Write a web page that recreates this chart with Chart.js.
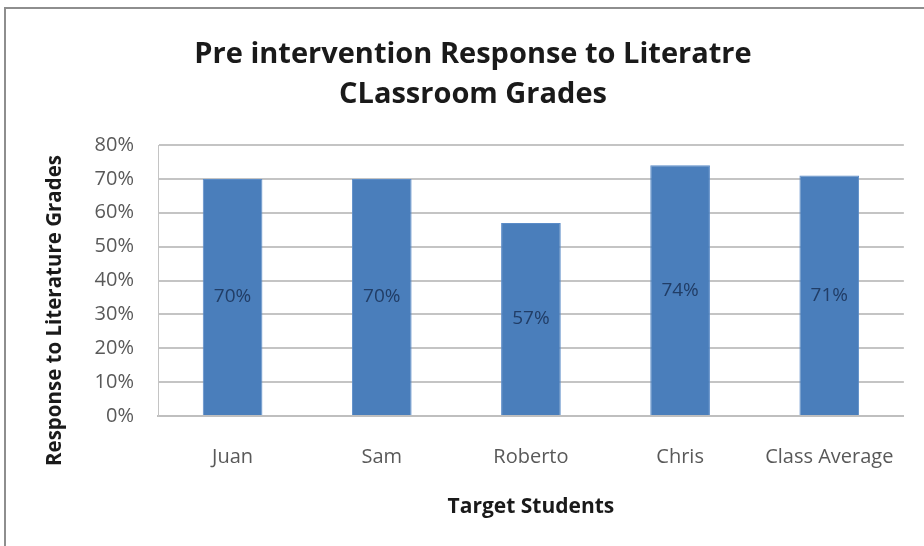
<!DOCTYPE html>
<html>
<head>
<meta charset="utf-8">
<script src="https://cdn.jsdelivr.net/npm/chart.js@4"></script>
<style>
  html, body { margin: 0; padding: 0; background: #fff; }
  #wrap { position: relative; width: 924px; height: 546px; overflow: hidden; }
  #frame { position: absolute; left: 4px; top: 7px; width: 940px; height: 560px;
           border-left: 2px solid #8e8e8e; border-top: 2px solid #8e8e8e; }
  canvas { position: absolute; left: 0; top: 0; }
</style>
</head>
<body>
<div id="wrap">
  <div id="frame"></div>
  <canvas id="chart" width="924" height="546"></canvas>
</div>
<script>
const students = ["Juan", "Sam", "Roberto", "Chris", "Class Average"];
const grades = [70, 70, 57, 74, 71];
const yTicks = [0, 10, 20, 30, 40, 50, 60, 70, 80];
const yTitle = "Response to Literature Grades";

const FONT = "Open Sans";

// etykiety wartosci w srodku slupkow
const barLabels = {
  id: "barLabels",
  afterDatasetsDraw(chart) {
    const ctx = chart.ctx;
    const meta = chart.getDatasetMeta(0);
    ctx.save();
    ctx.font = "19px '" + FONT + "'";
    ctx.fillStyle = "#213d66";
    ctx.textAlign = "center";
    ctx.textBaseline = "middle";
    meta.data.forEach((bar, i) => {
      const mid = (bar.y + bar.base) / 2;
      ctx.fillText(grades[i] + "%", bar.x, mid);
    });
    ctx.restore();
  }
};

// tytul osi Y - w Excelu jest wysrodkowany nizej niz w Chart.js
const yAxisTitle = {
  id: "yAxisTitle",
  afterDraw(chart) {
    const ctx = chart.ctx;
    const y = chart.scales.y;
    ctx.save();
    ctx.translate(55, (y.top + y.bottom) / 2 + 30);
    ctx.rotate(-Math.PI / 2);
    ctx.font = "bold 20.5px '" + FONT + "'";
    ctx.fillStyle = "#1a1a1a";
    ctx.textAlign = "center";
    ctx.textBaseline = "middle";
    ctx.fillText(yTitle, 0, 0);
    ctx.restore();
  }
};

new Chart(document.getElementById("chart"), {
  type: "bar",
  data: {
    labels: students,
    datasets: [{
      data: grades,
      backgroundColor: "#4a7ebb",
      borderColor: "#5b8cc8",
      borderWidth: 1,
      barPercentage: 0.4,
      categoryPercentage: 1
    }]
  },
  options: {
    responsive: false,
    animation: false,
    layout: { padding: { left: 38, right: 16, top: 0, bottom: 0 } },
    plugins: {
      legend: { display: false },
      tooltip: { enabled: false },
      title: {
        display: true,
        text: ["Pre intervention Response to Literatre", "CLassroom Grades"],
        font: { family: FONT, size: 29, weight: "bold", lineHeight: 1.38 },
        color: "#1a1a1a",
        padding: { top: 35, bottom: 30 }
      }
    },
    scales: {
      x: {
        grid: { display: false, drawTicks: false },
        border: { display: true, color: "#bfbfbf", width: 2 },
        ticks: { font: { family: FONT, size: 20 }, color: "#595959", padding: 29 },
        title: {
          display: true,
          text: "Target Students",
          font: { family: FONT, size: 21, weight: "bold" },
          color: "#1a1a1a",
          padding: { top: 4, bottom: 26 }
        },
        afterFit(scale) { scale.height = 130; }
      },
      y: {
        min: 0,
        max: 80,
        afterBuildTicks(scale) { scale.ticks = yTicks.map(v => ({ value: v })); },
        grid: { color: "#c4c4c4", lineWidth: 2, drawTicks: false },
        border: { display: true, color: "#c4c4c4", width: 1 },
        ticks: {
          font: { family: FONT, size: 20 },
          color: "#595959",
          padding: 24,
          callback: v => v + "%"
        },
        title: { display: false },
        afterFit(scale) { scale.width = 120; }
      }
    }
  },
  plugins: [barLabels, yAxisTitle]
});
</script>
</body>
</html>
